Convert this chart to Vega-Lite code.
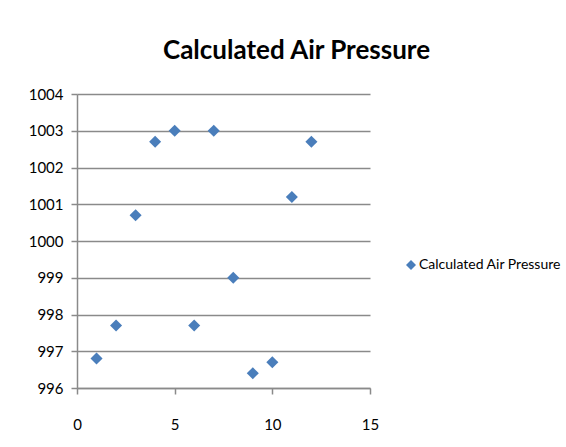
{
  "$schema": "https://vega.github.io/schema/vega-lite/v6.json",
  "width": 293,
  "height": 294,
  "autosize": "none",
  "padding": {"left": 77, "top": 94, "right": 196, "bottom": 59},
  "background": "white",
  "title": {
    "text": "Calculated Air Pressure",
    "font": "Lato",
    "fontSize": 26,
    "fontWeight": "bold",
    "color": "#000000",
    "anchor": "middle",
    "frame": "group",
    "dx": 73,
    "baseline": "alphabetic",
    "offset": 2
  },
  "data": {
    "values": [
      {"x": 1, "pressure": 996.8, "series": "Calculated Air Pressure"},
      {"x": 2, "pressure": 997.7, "series": "Calculated Air Pressure"},
      {"x": 3, "pressure": 1000.7, "series": "Calculated Air Pressure"},
      {"x": 4, "pressure": 1002.7, "series": "Calculated Air Pressure"},
      {"x": 5, "pressure": 1003.0, "series": "Calculated Air Pressure"},
      {"x": 6, "pressure": 997.7, "series": "Calculated Air Pressure"},
      {"x": 7, "pressure": 1003.0, "series": "Calculated Air Pressure"},
      {"x": 8, "pressure": 999.0, "series": "Calculated Air Pressure"},
      {"x": 9, "pressure": 996.4, "series": "Calculated Air Pressure"},
      {"x": 10, "pressure": 996.7, "series": "Calculated Air Pressure"},
      {"x": 11, "pressure": 1001.2, "series": "Calculated Air Pressure"},
      {"x": 12, "pressure": 1002.7, "series": "Calculated Air Pressure"}
    ]
  },
  "mark": {"type": "point", "shape": "diamond", "filled": true, "size": 145, "opacity": 1},
  "encoding": {
    "x": {
      "field": "x",
      "type": "quantitative",
      "scale": {"domain": [0, 15], "nice": false, "zero": false},
      "axis": {
        "title": null,
        "values": [0, 5, 10, 15],
        "grid": false,
        "domainColor": "#8a8a8a",
        "domainWidth": 1.5,
        "tickColor": "#8a8a8a",
        "tickWidth": 1.5,
        "tickSize": 6,
        "labelPadding": 23,
        "labelFont": "Lato",
        "labelFontSize": 15,
        "labelColor": "#000000",
        "labelFlush": false
      }
    },
    "y": {
      "field": "pressure",
      "type": "quantitative",
      "scale": {"domain": [996, 1004], "nice": false, "zero": false},
      "axis": {
        "title": null,
        "values": [996, 997, 998, 999, 1000, 1001, 1002, 1003, 1004],
        "format": "d",
        "grid": true,
        "gridColor": "#8a8a8a",
        "gridWidth": 1.5,
        "domainColor": "#8a8a8a",
        "domainWidth": 1.5,
        "tickColor": "#8a8a8a",
        "tickWidth": 1.5,
        "tickSize": 6,
        "labelPadding": 8,
        "labelFont": "Lato",
        "labelFontSize": 15,
        "labelColor": "#000000"
      }
    },
    "color": {
      "field": "series",
      "type": "nominal",
      "scale": {"range": ["#4A7EBB"]},
      "legend": {
        "title": null,
        "orient": "none",
        "legendX": 327,
        "legendY": 164,
        "symbolType": "diamond",
        "symbolSize": 100,
        "symbolOpacity": 1,
        "labelFont": "Lato",
        "labelFontSize": 14,
        "labelColor": "#000000",
        "labelOffset": 1,
        "padding": 0
      }
    }
  },
  "config": {"view": {"stroke": null}}
}
